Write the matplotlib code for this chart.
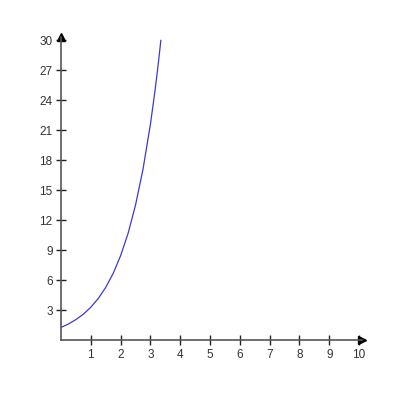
import matplotlib
matplotlib.use("Agg")
import matplotlib.pyplot as plt

# curve
xs = [0.0, 0.25, 0.5, 0.75, 1.0, 1.25, 1.5, 1.75, 2.0, 2.25, 2.5, 2.75,
      3.0, 3.15, 3.25, 3.35]
ys = [1.30, 1.64, 2.08, 2.62, 3.32, 4.19, 5.30, 6.70, 8.47, 10.70, 13.53,
      17.10, 21.61, 24.88, 27.32, 30.0]

x_ticks = [1, 2, 3, 4, 5, 6, 7, 8, 9, 10]
y_ticks = [3, 6, 9, 12, 15, 18, 21, 24, 27, 30]

plt.rcParams["font.family"] = ["Liberation Sans", "DejaVu Sans"]

fig = plt.figure(figsize=(4, 4), dpi=100)
ax = fig.add_axes([0.1525, 0.149, 0.775, 0.775])

ax.plot(xs, ys, color="#3a3ad8", lw=0.9)

ax.set_xlim(0, 10.4)
ax.set_ylim(0, 31)

axis_col = "#555555"
for s in ("top", "right"):
    ax.spines[s].set_visible(False)
for s in ("left", "bottom"):
    ax.spines[s].set_color(axis_col)
    ax.spines[s].set_linewidth(1.2)
ax.spines["bottom"].set_bounds(0, 10.1)
ax.spines["left"].set_bounds(0, 30.3)

# arrow heads
ax.plot(10.1, 0, marker=">", color="black", ms=6, clip_on=False)
ax.plot(0, 30.3, marker="^", color="black", ms=6, clip_on=False)

ax.set_xticks(x_ticks)
ax.set_yticks(y_ticks)
ax.tick_params(direction="inout", length=7, width=1, color="#222222",
               labelsize=8.5, labelcolor="#333333")
ax.tick_params(axis="y", pad=2.5)
ax.tick_params(axis="x", pad=2.5)

fig.savefig("out.png", dpi=100)
